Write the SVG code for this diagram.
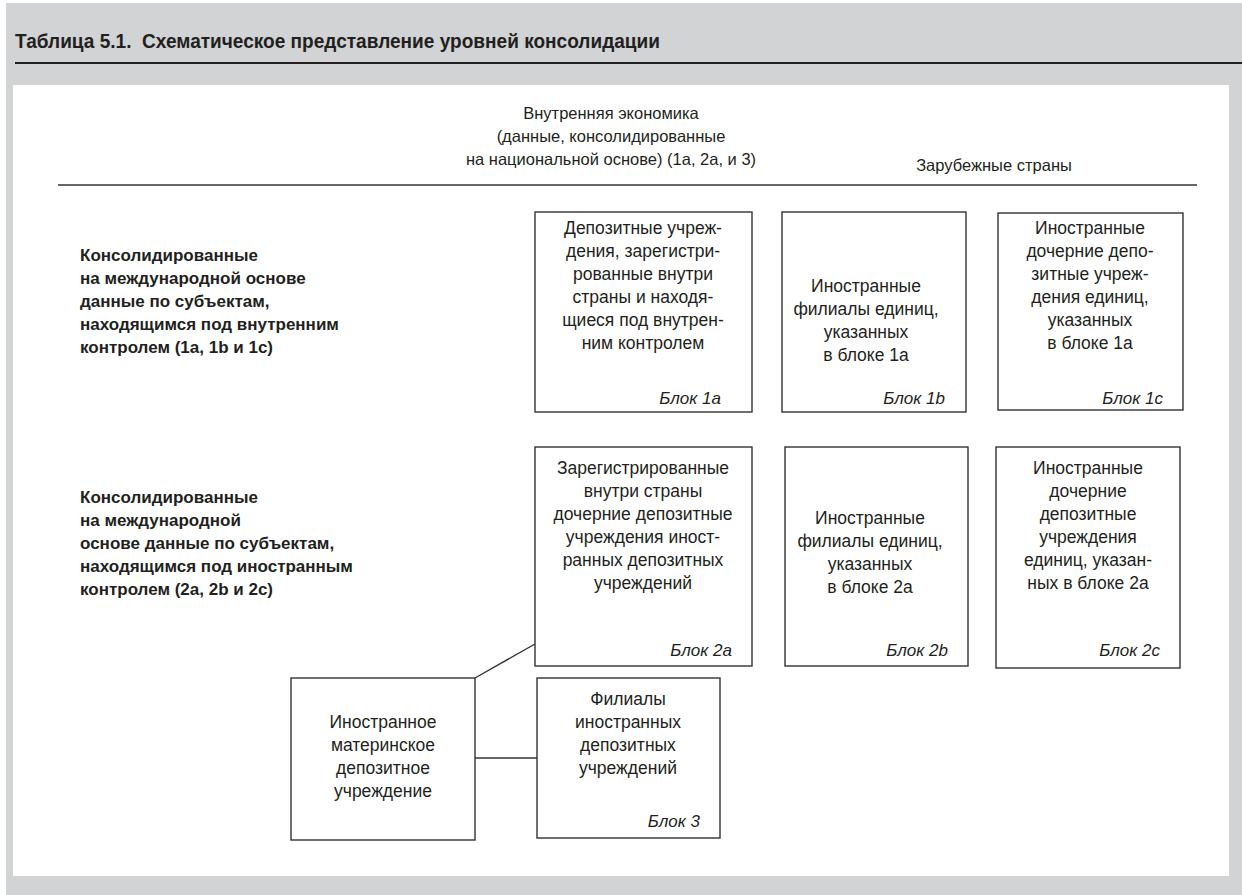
<svg xmlns="http://www.w3.org/2000/svg" width="1242" height="895" viewBox="0 0 1242 895">
<style>
text{font-family:"Liberation Sans",Arial,sans-serif;fill:#231f20}
.t{font-size:17.5px;text-anchor:middle}
.b{font-size:17px;font-weight:bold}
.h{font-size:16.5px;text-anchor:middle}
.blk{font-size:17px;font-style:italic;text-anchor:end}
.box{fill:#fff;stroke:#333;stroke-width:1.4}
.ln{stroke:#333;stroke-width:1.4;fill:none}
</style>
<rect x="6" y="3" width="1236" height="892" fill="#d1d3d4"/>
<text x="15" y="48" style="font-size:21px;font-weight:bold" textLength="645" lengthAdjust="spacingAndGlyphs">Таблица 5.1.&#160; Схематическое представление уровней консолидации</text>
<line x1="15" y1="63" x2="1242" y2="63" stroke="#231f20" stroke-width="2"/>
<rect x="13" y="85" width="1216" height="791" fill="#fff"/>
<g id="header">
<text class="h" x="611" y="119">Внутренняя экономика</text>
<text class="h" x="611" y="142">(данные, консолидированные</text>
<text class="h" x="611" y="165">на национальной основе) (1а, 2а, и 3)</text>
<text class="h" x="994" y="171">Зарубежные страны</text>
<line x1="58" y1="185" x2="1197" y2="185" stroke="#333" stroke-width="1.5"/>
</g>
<g id="row1-label">
<text class="b" x="80" y="261">Консолидированные</text>
<text class="b" x="80" y="284">на международной основе</text>
<text class="b" x="80" y="307">данные по субъектам,</text>
<text class="b" x="80" y="330">находящимся под внутренним</text>
<text class="b" x="80" y="353">контролем (1а, 1b и 1c)</text>
</g>
<g id="row2-label">
<text class="b" x="80" y="503">Консолидированные</text>
<text class="b" x="80" y="526">на международной</text>
<text class="b" x="80" y="549">основе данные по субъектам,</text>
<text class="b" x="80" y="572">находящимся под иностранным</text>
<text class="b" x="80" y="595">контролем (2а, 2b и 2c)</text>
</g>
<g id="connectors">
<line class="ln" x1="475" y1="678" x2="535" y2="644"/>
<line class="ln" x1="475" y1="758" x2="537" y2="758"/>
</g>
<g id="block1a">
<rect class="box" x="535" y="212" width="217" height="200"/>
<text class="t" x="643" y="234">Депозитные учреж-</text>
<text class="t" x="643" y="257">дения, зарегистри-</text>
<text class="t" x="643" y="280">рованные внутри</text>
<text class="t" x="643" y="303">страны и находя-</text>
<text class="t" x="643" y="326">щиеся под внутрен-</text>
<text class="t" x="643" y="349">ним контролем</text>
<text class="blk" x="721" y="404">Блок 1а</text>
</g>
<g id="block1b">
<rect class="box" x="782" y="212" width="184" height="200"/>
<text class="t" x="866" y="292">Иностранные</text>
<text class="t" x="866" y="315">филиалы единиц,</text>
<text class="t" x="866" y="338">указанных</text>
<text class="t" x="866" y="361">в блоке 1а</text>
<text class="blk" x="945" y="404">Блок 1b</text>
</g>
<g id="block1c">
<rect class="box" x="998" y="213" width="185" height="197"/>
<text class="t" x="1090" y="234">Иностранные</text>
<text class="t" x="1090" y="257">дочерние депо-</text>
<text class="t" x="1090" y="280">зитные учреж-</text>
<text class="t" x="1090" y="303">дения единиц,</text>
<text class="t" x="1090" y="326">указанных</text>
<text class="t" x="1090" y="349">в блоке 1а</text>
<text class="blk" x="1163" y="404">Блок 1с</text>
</g>
<g id="block2a">
<rect class="box" x="535" y="447" width="217" height="219"/>
<text class="t" x="643" y="474">Зарегистрированные</text>
<text class="t" x="643" y="497">внутри страны</text>
<text class="t" x="643" y="520">дочерние депозитные</text>
<text class="t" x="643" y="543">учреждения иност-</text>
<text class="t" x="643" y="566">ранных депозитных</text>
<text class="t" x="643" y="589">учреждений</text>
<text class="blk" x="732" y="656">Блок 2а</text>
</g>
<g id="block2b">
<rect class="box" x="785" y="447" width="183" height="219"/>
<text class="t" x="870" y="524">Иностранные</text>
<text class="t" x="870" y="547">филиалы единиц,</text>
<text class="t" x="870" y="570">указанных</text>
<text class="t" x="870" y="593">в блоке 2а</text>
<text class="blk" x="948" y="656">Блок 2b</text>
</g>
<g id="block2c">
<rect class="box" x="996" y="447" width="184" height="221"/>
<text class="t" x="1088" y="474">Иностранные</text>
<text class="t" x="1088" y="497">дочерние</text>
<text class="t" x="1088" y="520">депозитные</text>
<text class="t" x="1088" y="543">учреждения</text>
<text class="t" x="1088" y="566">единиц, указан-</text>
<text class="t" x="1088" y="589">ных в блоке 2а</text>
<text class="blk" x="1160" y="656">Блок 2с</text>
</g>
<g id="parent">
<rect class="box" x="291" y="678" width="184" height="162"/>
<text class="t" x="383" y="728">Иностранное</text>
<text class="t" x="383" y="751">материнское</text>
<text class="t" x="383" y="774">депозитное</text>
<text class="t" x="383" y="797">учреждение</text>
</g>
<g id="block3">
<rect class="box" x="537" y="678" width="183" height="160"/>
<text class="t" x="628" y="705">Филиалы</text>
<text class="t" x="628" y="728">иностранных</text>
<text class="t" x="628" y="751">депозитных</text>
<text class="t" x="628" y="774">учреждений</text>
<text class="blk" x="700" y="827">Блок 3</text>
</g>
</svg>
